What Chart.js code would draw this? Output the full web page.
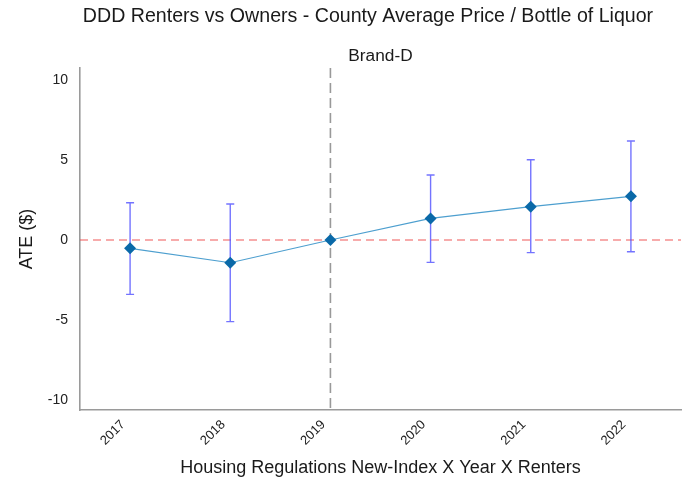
<!DOCTYPE html>
<html>
<head>
<meta charset="utf-8">
<script src="https://cdn.jsdelivr.net/npm/chart.js@4/dist/chart.umd.min.js"></script>
<style>
  html, body { margin: 0; padding: 0; background: #fff; }
  #wrap { width: 682px; height: 484px; }
</style>
</head>
<body>
<div id="wrap"><canvas id="c" width="682" height="484"></canvas></div>
<script>
const chartTitle = "DDD Renters vs Owners - County Average Price / Bottle of Liquor";
const chartSubtitle = "Brand-D";
const years = ["2017", "2018", "2019", "2020", "2021", "2022"];
const ateValues = [-0.52, -1.42, 0.0, 1.35, 2.08, 2.73];
const ciLower = [-3.40, -5.10, 0.0, -1.40, -0.79, -0.73];
const ciUpper = [2.33, 2.25, 0.0, 4.06, 5.02, 6.19];
const yTicks = [-10, -5, 0, 5, 10];
const eventYear = "2019";
const refValue = 0;

const FONT = "'Liberation Sans', Arial, Helvetica, sans-serif";

const overlayPlugin = {
  id: 'overlay',
  beforeDatasetsDraw(chart) {
    const ctx = chart.ctx;
    const x = chart.scales.x, y = chart.scales.y;
    const area = chart.chartArea;
    ctx.save();
    // zero reference line
    ctx.strokeStyle = 'rgba(236,70,70,0.9)';
    ctx.lineWidth = 1.2;
    ctx.setLineDash([8, 5]);
    const y0 = y.getPixelForValue(refValue);
    ctx.beginPath();
    ctx.moveTo(area.left, y0);
    ctx.lineTo(area.right, y0);
    ctx.stroke();
    // event vertical line
    ctx.strokeStyle = '#999999';
    ctx.lineWidth = 1.6;
    ctx.setLineDash([10, 5]);
    const xe = x.getPixelForValue(years.indexOf(eventYear));
    ctx.beginPath();
    ctx.moveTo(xe, area.top);
    ctx.lineTo(xe, area.bottom);
    ctx.stroke();
    // error bars
    ctx.setLineDash([]);
    ctx.strokeStyle = 'rgba(80,80,255,0.8)';
    ctx.lineWidth = 1.4;
    years.forEach((yr, i) => {
      if (ciUpper[i] === ciLower[i]) return;
      const px = x.getPixelForValue(i);
      const pl = y.getPixelForValue(ciLower[i]);
      const pu = y.getPixelForValue(ciUpper[i]);
      ctx.beginPath();
      ctx.moveTo(px, pl); ctx.lineTo(px, pu);
      ctx.moveTo(px - 4, pl); ctx.lineTo(px + 4, pl);
      ctx.moveTo(px - 4, pu); ctx.lineTo(px + 4, pu);
      ctx.stroke();
    });
    ctx.restore();
  },
  afterDraw(chart) {
    const ctx = chart.ctx;
    const area = chart.chartArea;
    ctx.save();
    ctx.fillStyle = '#1a1a1a';
    ctx.textAlign = 'center';
    ctx.textBaseline = 'middle';
    ctx.font = "19.6px " + FONT;
    ctx.fillText(chartTitle, 368, 17);
    ctx.font = "17.3px " + FONT;
    ctx.fillText(chartSubtitle, (area.left + area.right) / 2, 56);
    ctx.restore();
  }
};

new Chart(document.getElementById('c'), {
  type: 'line',
  data: {
    labels: years,
    datasets: [{
      data: ateValues,
      borderColor: '#4d9fcf',
      borderWidth: 1.2,
      pointStyle: 'rectRot',
      pointRadius: 6,
      pointBorderWidth: 0,
      pointBackgroundColor: '#0a69a8',
      pointBorderColor: '#0a69a8',
      tension: 0,
      fill: false,
      clip: false
    }]
  },
  options: {
    responsive: false,
    animation: false,
    devicePixelRatio: 1,
    layout: { autoPadding: false, padding: { top: 68, right: 1, left: 0, bottom: 0 } },
    plugins: {
      legend: { display: false },
      tooltip: { enabled: false },
      title: { display: false }
    },
    scales: {
      x: {
        type: 'category',
        offset: true,
        grid: { display: false, drawTicks: false },
        border: { display: true, color: '#9a9a9a', width: 1.6 },
        ticks: {
          color: '#222',
          font: { family: FONT, size: 13 },
          minRotation: 45, maxRotation: 45,
          padding: 7,
          labelOffset: -7
        },
        title: {
          display: true,
          text: 'Housing Regulations New-Index X Year X Renters',
          color: '#1a1a1a',
          font: { family: FONT, size: 18 },
          padding: { top: 4, bottom: 5 }
        },
        afterFit(scale) { scale.height = 74; scale.paddingRight = 0; scale.paddingLeft = 0; }
      },
      y: {
        min: -10.625,
        max: 10.75,
        grid: { display: false, drawTicks: false },
        border: { display: true, color: '#9a9a9a', width: 1.6 },
        afterBuildTicks(scale) { scale.ticks = yTicks.map(v => ({ value: v })); },
        ticks: {
          color: '#222',
          font: { family: FONT, size: 14 },
          padding: 12
        },
        title: {
          display: true,
          text: 'ATE ($)',
          color: '#1a1a1a',
          font: { family: FONT, size: 18 },
          padding: { top: 16, bottom: 0 }
        },
        afterFit(scale) { scale.width = 80; scale.paddingTop = 0; scale.paddingBottom = 0; }
      }
    }
  },
  plugins: [overlayPlugin]
});
</script>
</body>
</html>
